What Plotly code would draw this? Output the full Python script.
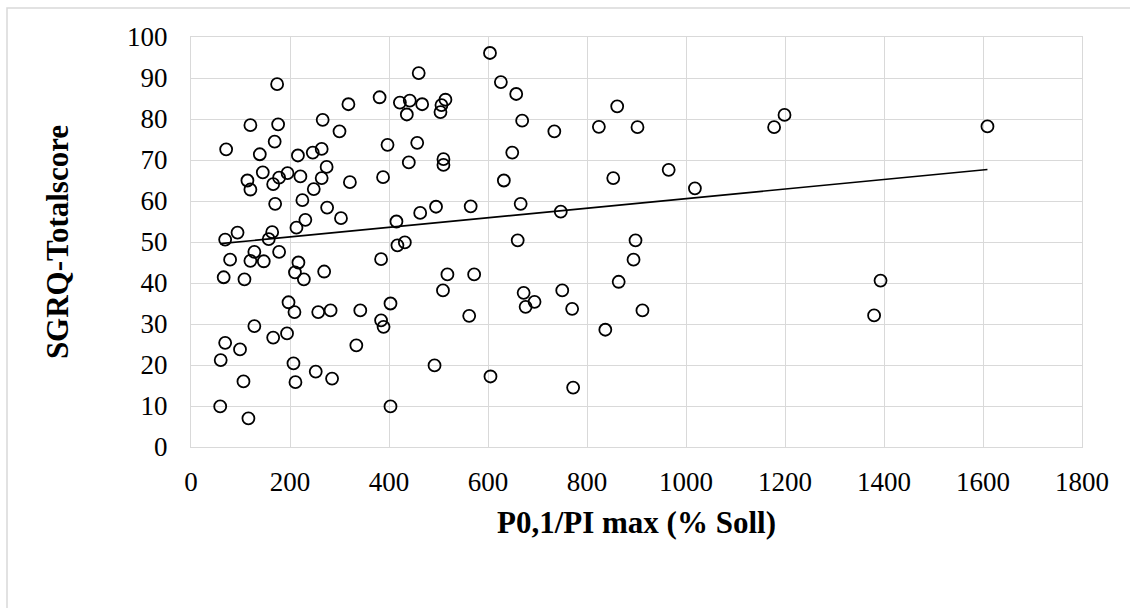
import numpy as np
import plotly.graph_objects as go

# P0,1/PI max (% Soll)
x_vals = [
    174, 460, 318, 381, 422, 442, 467, 436, 504, 506, 514, 120, 176, 266, 300, 169, 71, 139, 216, 246,
    264, 274, 397, 457, 440, 510, 510, 145, 114, 120, 166, 178, 195, 221, 264, 248, 321, 388, 170, 225,
    275, 303, 231, 213, 415, 463, 495, 565, 94, 69, 164, 157, 417, 432,
    79, 128, 120, 147, 178, 217, 210, 228, 269, 66, 108, 384, 197, 209, 257, 282,
    342, 403, 384, 389, 128, 166, 194, 334, 69, 99, 60, 207, 252, 285, 211, 106,
    492, 59, 116, 403, 518, 572, 509, 562,
    604, 626, 657, 669, 734, 824, 861, 902, 649, 632, 853, 965, 1018, 666, 747, 660, 898,
    894, 864, 672, 694, 676, 750, 770, 912, 837, 605, 772,
    1178, 1199, 1609, 1393, 1380,
]
# SGRQ-Totalscore
y_vals = [
    88.5, 91.2, 83.6, 85.3, 84.0, 84.5, 83.6, 81.1, 81.7, 83.4, 84.7, 78.5, 78.7, 79.8, 77.0, 74.5, 72.6, 71.4, 71.1, 71.8,
    72.7, 68.3, 73.7, 74.2, 69.4, 70.2, 68.8, 67.0, 65.0, 62.8, 64.1, 65.7, 66.8, 66.0, 65.6, 62.9, 64.6, 65.8, 59.3, 60.2,
    58.4, 55.8, 55.4, 53.5, 55.0, 57.1, 58.6, 58.7, 52.3, 50.6, 52.4, 50.7, 49.2, 49.9,
    45.7, 47.6, 45.4, 45.3, 47.6, 45.0, 42.6, 40.9, 42.8, 41.4, 40.9, 45.8, 35.3, 32.9, 32.9, 33.3,
    33.3, 35.0, 30.9, 29.3, 29.5, 26.7, 27.7, 24.8, 25.4, 23.8, 21.2, 20.4, 18.4, 16.7, 15.8, 16.0,
    19.9, 9.9, 7.0, 9.9, 42.1, 42.1, 38.2, 32.0,
    96.1, 89.0, 86.1, 79.6, 77.0, 78.1, 83.1, 78.0, 71.8, 65.0, 65.6, 67.6, 63.1, 59.3, 57.4, 50.4, 50.4,
    45.7, 40.3, 37.6, 35.4, 34.2, 38.2, 33.7, 33.3, 28.6, 17.2, 14.5,
    78.0, 81.0, 78.2, 40.6, 32.1,
]

x_ticks = [0, 200, 400, 600, 800, 1000, 1200, 1400, 1600, 1800]
y_ticks = [0, 10, 20, 30, 40, 50, 60, 70, 80, 90, 100]
x_title = "P0,1/PI max (% Soll)"
y_title = "SGRQ-Totalscore"

xa = np.array(x_vals, dtype=float)
ya = np.array(y_vals, dtype=float)
slope, intercept = np.polyfit(xa, ya, 1)
trend_x = [xa.min(), xa.max()]
trend_y = [intercept + slope * v for v in trend_x]

FONT = "Liberation Serif"
GRID = "#d9d9d9"

fig = go.Figure()
fig.add_trace(go.Scatter(
    x=trend_x, y=trend_y, mode="lines",
    line=dict(color="black", width=1.6), hoverinfo="skip", showlegend=False,
))
fig.add_trace(go.Scatter(
    x=x_vals, y=y_vals, mode="markers",
    marker=dict(symbol="circle", size=12, color="rgba(255,255,255,0)",
                line=dict(color="black", width=1.8)),
    showlegend=False,
))

L, R, T, B = 191, 48, 37, 161
W, H = 1130, 608
pw, ph = W - L - R, H - T - B

fig.update_layout(
    width=W, height=H,
    margin=dict(l=L, r=R, t=T, b=B, pad=0),
    paper_bgcolor="white", plot_bgcolor="white",
    font=dict(family=FONT, color="black", size=27),
    shapes=[dict(
        type="rect", xref="paper", yref="paper",
        x0=(7 - L) / pw, x1=(W + 40 - L) / pw,
        y0=(T + ph - (H + 40)) / ph, y1=(T + ph - 8) / ph,
        line=dict(color=GRID, width=1.5), fillcolor="rgba(0,0,0,0)", layer="below",
    )],
)
fig.update_xaxes(
    range=[0, 1800], tickvals=x_ticks, ticktext=[str(v) for v in x_ticks],
    showgrid=True, gridcolor=GRID, gridwidth=1.3,
    showline=True, linecolor=GRID, linewidth=1.3, mirror=True,
    zeroline=False, ticks="", tickfont=dict(family=FONT, size=27),
    ticklabelstandoff=10,
    title=dict(text="<b>" + x_title + "</b>", font=dict(family=FONT, size=31), standoff=15),
)
fig.update_yaxes(
    range=[0, 100], tickvals=y_ticks, ticktext=[str(v) for v in y_ticks],
    showgrid=True, gridcolor=GRID, gridwidth=1.3,
    showline=True, linecolor=GRID, linewidth=1.3, mirror=True,
    zeroline=False, ticks="", tickfont=dict(family=FONT, size=27),
    ticklabelstandoff=17,
    title=dict(text="<b>" + y_title + "</b>", font=dict(family=FONT, size=31), standoff=49),
)

fig.write_html("out.html")
